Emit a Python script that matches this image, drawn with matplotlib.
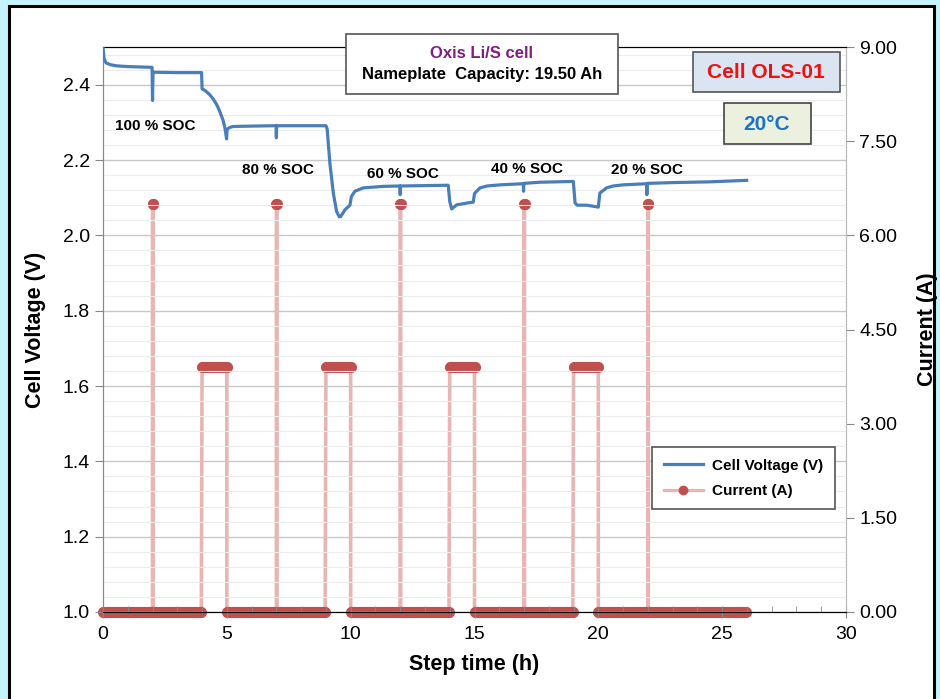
import numpy as np
import matplotlib.pyplot as plt
from matplotlib.patches import Rectangle
from matplotlib.lines import Line2D
from matplotlib.ticker import MultipleLocator

plt.rcParams['font.family'] = ['Liberation Sans', 'DejaVu Sans']

# cell voltage record (step time in h, voltage in V)
volt_t = [0.0, 0.04, 0.12, 0.3, 0.55, 1.0, 1.5, 1.98, 2.0, 2.02, 2.04, 3.0, 3.98,
          4.0, 4.13, 4.3, 4.45, 4.6, 4.72, 4.85, 4.93, 4.99, 5.01, 5.1, 5.25, 6.0, 6.99,
          7.0, 7.01, 7.03, 8.0, 9.0, 9.05, 9.16, 9.3, 9.43, 9.54, 9.6, 9.77, 9.97,
          10.03, 10.17, 10.51, 11.32, 11.99, 12.0, 12.01, 12.03, 13.0, 13.94,
          14.0, 14.08, 14.28, 14.82, 14.95, 15.0, 15.22, 15.5, 16.03, 16.97,
          16.98, 16.99, 17.01, 17.64, 18.99, 19.06, 19.15, 19.53, 20.0,
          20.06, 20.33, 20.6, 21.0, 21.95, 21.96, 21.97, 21.99, 23.0, 24.5, 25.99]
volt_v = [2.500, 2.470, 2.458, 2.453, 2.450, 2.448, 2.447, 2.446, 2.358, 2.433, 2.433, 2.432, 2.432,
          2.389, 2.384, 2.374, 2.362, 2.346, 2.328, 2.305, 2.283, 2.256, 2.281, 2.286, 2.289, 2.290, 2.291,
          2.259, 2.291, 2.291, 2.291, 2.291, 2.283, 2.192, 2.112, 2.064, 2.049, 2.050, 2.068, 2.080,
          2.103, 2.117, 2.126, 2.130, 2.131, 2.108, 2.131, 2.131, 2.132, 2.133,
          2.090, 2.070, 2.081, 2.087, 2.088, 2.111, 2.126, 2.131, 2.134, 2.137,
          2.117, 2.137, 2.138, 2.141, 2.143, 2.086, 2.080, 2.080, 2.075,
          2.112, 2.126, 2.131, 2.134, 2.137, 2.108, 2.137, 2.138, 2.140, 2.142, 2.146]

# current steps (A): rest, short pulses, 1 h C/5 discharges
seg_start = [0.0, 2.0, 2.02, 4.0, 5.0, 7.0, 7.02, 9.0, 10.0, 12.0, 12.02, 14.0, 15.0,
             17.0, 17.02, 19.0, 20.0, 22.0, 22.02]
seg_end = [2.0, 2.02, 4.0, 5.0, 7.0, 7.02, 9.0, 10.0, 12.0, 12.02, 14.0, 15.0, 17.0,
           17.02, 19.0, 20.0, 22.0, 22.02, 26.0]
seg_amps = [0.0, 6.5, 0.0, 3.9, 0.0, 6.5, 0.0, 3.9, 0.0, 6.5, 0.0, 3.9, 0.0,
            6.5, 0.0, 3.9, 0.0, 6.5, 0.0]
log_step = 0.05

soc_labels = ['100 % SOC', '80 % SOC', '60 % SOC', '40 % SOC', '20 % SOC']
soc_t = [2.1, 7.07, 12.1, 17.1, 21.96]
soc_v = [2.291, 2.174, 2.164, 2.177, 2.174]

# sampled current log built from the step table
cur_t, cur_a = [], []
for t0, t1, a in zip(seg_start, seg_end, seg_amps):
    ts = np.arange(t0, t1 + 1e-9, log_step) if t1 - t0 > log_step else np.array([t0, t1])
    cur_t.extend(ts)
    cur_a.extend([a] * len(ts))

fig = plt.figure(figsize=(9.4, 6.99), dpi=100)
fig.patch.set_facecolor('#c4f3fc')
fig.patches.append(Rectangle((8.5 / 940, -0.01), 925 / 940, 1 - 5.5 / 699 + 0.01,
                             transform=fig.transFigure, facecolor='white',
                             edgecolor='black', linewidth=2.2, zorder=-10))

ax = fig.add_axes([103 / 940, 1 - 612 / 699, 743 / 940, 565 / 699])
ax2 = ax.twinx()

# current on the right axis, drawn under the voltage
ax2.plot(cur_t, cur_a, color='#e8b4b4', linewidth=2.6, zorder=2)
ax2.plot(cur_t, cur_a, linestyle='none', marker='o', markersize=7,
         color='#c0504d', zorder=3, clip_on=False)
ax2.set_ylim(0, 9)
ax2.set_yticks(np.arange(0, 9.01, 1.5))
ax2.set_yticklabels(['%.2f' % v for v in np.arange(0, 9.01, 1.5)])
ax2.set_ylabel('Current (A)', fontsize=15.5, fontweight='bold', labelpad=14)

ax.set_zorder(ax2.get_zorder() + 1)
ax.patch.set_visible(False)
ax.plot(volt_t, volt_v, color='#4a7ebb', linewidth=2.3, zorder=4)

ax.set_xlim(0, 30)
ax.set_ylim(1.0, 2.5)
ax.set_yticks(np.arange(1.0, 2.41, 0.2))
ax.set_yticklabels(['%.1f' % v for v in np.arange(1.0, 2.41, 0.2)])
ax.yaxis.set_minor_locator(MultipleLocator(0.04))
ax.xaxis.set_major_locator(MultipleLocator(5))
ax.xaxis.set_minor_locator(MultipleLocator(1))
ax.grid(axis='y', which='major', color='#c8c8c8', linewidth=1.0)
ax.grid(axis='y', which='minor', color='#ececec', linewidth=0.8)
ax.set_axisbelow(True)

ax.set_xlabel('Step time (h)', fontsize=15.5, fontweight='bold', labelpad=8)
ax.set_ylabel('Cell Voltage (V)', fontsize=15.5, fontweight='bold', labelpad=12)

for a in (ax, ax2):
    a.spines['top'].set_color('black')
    a.spines['bottom'].set_color('black')
    a.spines['left'].set_color('#888888')
    a.spines['right'].set_color('#bbbbbb')
    a.tick_params(labelsize=14, colors='#888888', labelcolor='black', length=6)
ax.tick_params(axis='x', which='major', direction='inout', length=8)
ax.tick_params(axis='x', which='minor', direction='in', length=4, colors='#888888')
ax.tick_params(axis='y', which='minor', length=0)
ax.tick_params(axis='x', pad=6)

for lab, t, v in zip(soc_labels, soc_t, soc_v):
    ax.text(t, v, lab, ha='center', va='center', fontsize=11, fontweight='bold', zorder=5)

# header box
fig.text(482 / 940, 1 - 53 / 699, 'Oxis Li/S cell', ha='center', va='center',
         fontsize=12, fontweight='bold', color='#7f1f7f', zorder=6)
fig.text(482 / 940, 1 - 75 / 699, 'Nameplate  Capacity: 19.50 Ah', ha='center',
         va='center', fontsize=12, fontweight='bold', zorder=6)
fig.patches.append(Rectangle((346 / 940, 1 - 94 / 699), 272 / 940, 60 / 699,
                             transform=fig.transFigure, facecolor='white',
                             edgecolor='#555555', linewidth=1.2, zorder=5))

fig.text(766 / 940, 1 - 72 / 699, 'Cell OLS-01', ha='center', va='center',
         fontsize=15, fontweight='bold', color='#ee1111', zorder=6)
fig.patches.append(Rectangle((693 / 940, 1 - 92 / 699), 147 / 940, 40 / 699,
                             transform=fig.transFigure, facecolor='#dbe5f1',
                             edgecolor='#555555', linewidth=1.2, zorder=5))

fig.text(767 / 940, 1 - 124 / 699, '20°C', ha='center', va='center',
         fontsize=15, fontweight='bold', color='#1f72c0', zorder=6)
fig.patches.append(Rectangle((724 / 940, 1 - 144 / 699), 87 / 940, 41 / 699,
                             transform=fig.transFigure, facecolor='#ebf1de',
                             edgecolor='#444444', linewidth=1.2, zorder=5))

handles = [Line2D([], [], color='#4a7ebb', linewidth=2.3),
           Line2D([], [], color='#e8b4b4', linewidth=2.3, marker='o',
                  markersize=6, markerfacecolor='#c0504d', markeredgecolor='#c0504d')]
leg = ax.legend(handles, ['Cell Voltage (V)', 'Current (A)'], loc='lower right',
                bbox_to_anchor=(0.9955, 0.168), prop={'weight': 'bold', 'size': 11},
                frameon=True, fancybox=False, edgecolor='#555555', framealpha=1,
                handlelength=2.6, handletextpad=0.6, borderpad=0.75, labelspacing=0.75)
leg.get_frame().set_linewidth(1.2)
leg.set_zorder(7)

fig.savefig('out.png', dpi=100, facecolor=fig.get_facecolor())
